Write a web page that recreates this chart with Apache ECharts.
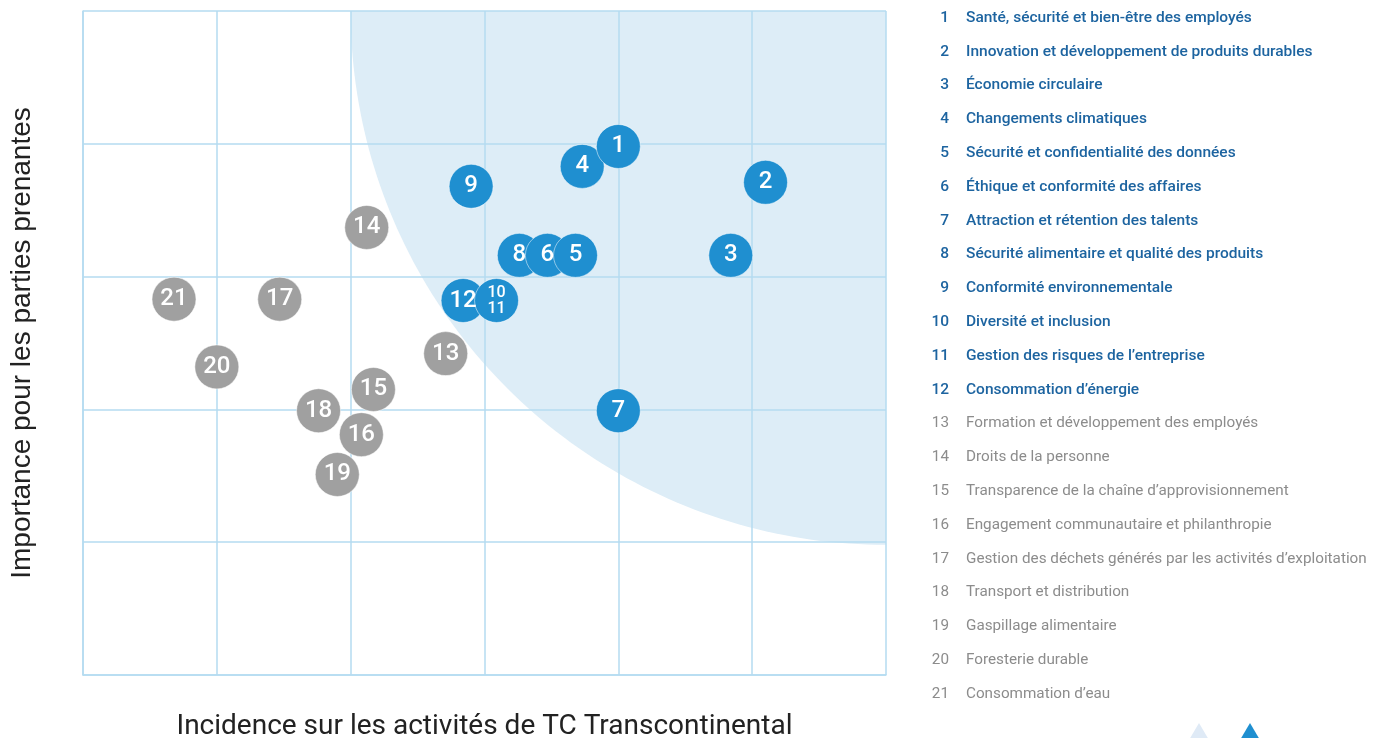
<!DOCTYPE html>
<html>
<head>
<meta charset="utf-8">
<script src="https://cdn.jsdelivr.net/npm/echarts@6/dist/echarts.min.js"></script>
<style>html,body{margin:0;padding:0;background:#fff;}#c{width:1385px;height:738px;}</style>
</head>
<body>
<div id="c"></div>
<script>
// ---- Data ----
const topicIds = ['1','2','3','4','5','6','7','8','9','10','11','12','13','14','15','16','17','18','19','20','21'];
const topicNames = [
  'Santé, sécurité et bien-être des employés',
  'Innovation et développement de produits durables',
  'Économie circulaire',
  'Changements climatiques',
  'Sécurité et confidentialité des données',
  'Éthique et conformité des affaires',
  'Attraction et rétention des talents',
  'Sécurité alimentaire et qualité des produits',
  'Conformité environnementale',
  'Diversité et inclusion',
  'Gestion des risques de l\u2019entreprise',
  'Consommation d\u2019énergie',
  'Formation et développement des employés',
  'Droits de la personne',
  'Transparence de la chaîne d\u2019approvisionnement',
  'Engagement communautaire et philanthropie',
  'Gestion des déchets générés par les activités d\u2019exploitation',
  'Transport et distribution',
  'Gaspillage alimentaire',
  'Foresterie durable',
  'Consommation d\u2019eau'
];
const priorityCount = 12; // topics 1-12 are priority (blue)

// Points (draw order: later on top)
const pointLabels = ['2','3','4','1','9','8','6','5','12','10\n11','7','13','14','15','16','17','18','19','20','21'];
const impact      = [5.10,4.84,3.73,4.00,2.90,3.26,3.47,3.68,2.84,3.09,4.00,2.71,2.12,2.17,2.08,1.47,1.76,1.90,1.00,0.68];
const importance  = [3.71,3.16,3.83,3.98,3.68,3.16,3.16,3.16,2.82,2.82,1.99,2.42,3.37,2.15,1.81,2.83,1.99,1.51,2.32,2.83];
const isPriority  = [1,1,1,1,1,1,1,1,1,1,1,0,0,0,0,0,0,0,0,0];

const xMin = 0, xMax = 6, yMin = 0, yMax = 5;
const zoneCenter = [6, 5];
const zoneRadius = [4, 4.02];

const xTitle = 'Incidence sur les activités de TC Transcontinental';
const yTitle = 'Importance pour les parties prenantes';

// ---- Styles ----
const BLUE = '#1f8fd0';
const GRAY = '#a0a0a0';
const GRID = '#b5dbf1';
const ZONE = '#ddedf7';
const LEG_BLUE = '#1d64a0';
const LEG_GRAY = '#8c8c8c';

const chart = echarts.init(document.getElementById('c'));

const scatterData = pointLabels.map((l, i) => ({
  value: [impact[i], importance[i]],
  name: l,
  itemStyle: { color: isPriority[i] ? BLUE : GRAY },
  label: l.indexOf('\n') >= 0 ? { fontSize: 16, lineHeight: 16 } : {}
}));

const legendGraphics = [];
topicIds.forEach((id, i) => {
  const y = 18 + i * 33.8;
  const blue = i < priorityCount;
  const col = blue ? LEG_BLUE : LEG_GRAY;
  const font = (blue ? '500 15.5px' : '15.25px') + ' Roboto';
  legendGraphics.push({
    type: 'text', x: 949, y: y,
    style: { text: id, fill: col, font: font, textAlign: 'right', textVerticalAlign: 'middle' }
  });
  legendGraphics.push({
    type: 'text', x: 966, y: y,
    style: { text: topicNames[i], fill: col, font: font, textAlign: 'left', textVerticalAlign: 'middle' }
  });
});
legendGraphics.push({ type: 'polygon', shape: { points: [[1189, 740], [1199, 723], [1209, 740]] }, style: { fill: '#dfeaf6' } });
legendGraphics.push({ type: 'polygon', shape: { points: [[1240, 740], [1250, 723], [1260, 740]] }, style: { fill: BLUE } });

const option = {
  animation: false,
  backgroundColor: '#fff',
  grid: { left: 83, top: 11, right: 499, bottom: 63, containLabel: false, outerBoundsMode: 'none' },
  xAxis: {
    type: 'value', min: xMin, max: xMax, interval: 1,
    name: xTitle, nameLocation: 'middle', nameGap: 38,
    nameTextStyle: { fontFamily: 'Roboto', fontSize: 28, color: '#222' },
    axisLine: { show: true, lineStyle: { color: GRID, width: 1.5 } },
    axisTick: { show: false }, axisLabel: { show: false },
    splitLine: { show: true, lineStyle: { color: GRID, width: 1.5 } }
  },
  yAxis: {
    type: 'value', min: yMin, max: yMax, interval: 1,
    name: yTitle, nameLocation: 'middle', nameGap: 47, nameRotate: 90,
    nameTextStyle: { fontFamily: 'Liberation Sans', fontSize: 28, color: '#222' },
    axisLine: { show: true, lineStyle: { color: GRID, width: 1.5 } },
    axisTick: { show: false }, axisLabel: { show: false },
    splitLine: { show: true, lineStyle: { color: GRID, width: 1.5 } }
  },
  series: [
    {
      type: 'custom', z: 0, silent: true, clip: true,
      data: [[zoneCenter[0], zoneCenter[1]]],
      renderItem: function (params, api) {
        const c = api.coord([api.value(0), api.value(1)]);
        const s = api.size(zoneRadius);
        const pts = [c];
        for (let k = 0; k <= 90; k++) {
          const t = k * Math.PI / 180;
          pts.push([c[0] - s[0] * Math.cos(t), c[1] + s[1] * Math.sin(t)]);
        }
        return { type: 'polygon', shape: { points: pts }, style: { fill: ZONE }, z2: -1 };
      }
    },
    {
      type: 'scatter', z: 5,
      symbolSize: 44,
      data: scatterData,
      itemStyle: { borderColor: 'rgba(255,255,255,0.5)', borderWidth: 1, opacity: 1 },
      label: {
        show: true, position: 'inside', formatter: '{b}',
        color: '#fff', fontFamily: 'Roboto', fontWeight: 500, fontSize: 24
      }
    }
  ],
  graphic: legendGraphics
};
chart.setOption(option);
</script>
</body>
</html>
